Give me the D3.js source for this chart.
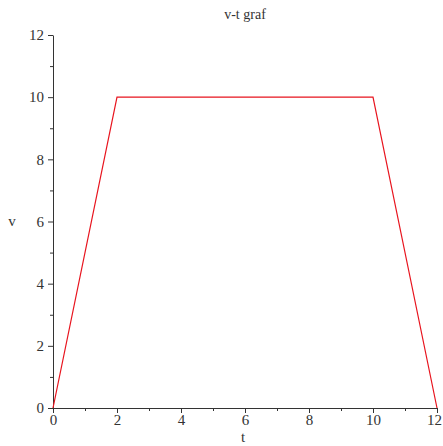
<!DOCTYPE html>
<html>
<head>
<meta charset="utf-8">
<script src="https://cdn.jsdelivr.net/npm/d3@7"></script>
<style>
  body { margin: 0; background: #fff; }
</style>
</head>
<body>
<div id="chart"></div>
<script>
// data
var times = [0, 2, 10, 12]
var speeds = [0, 10, 10, 0]
var xTicks = [0, 2, 4, 6, 8, 10, 12]
var yTicks = [0, 2, 4, 6, 8, 10, 12]
var xMinor = [1, 3, 5, 7, 9, 11]
var yMinor = [1, 3, 5, 7, 9, 11]

var serif = "'Liberation Serif', 'DejaVu Serif', serif"
var w = 443, h = 446
var margin = { top: 35, right: 6, bottom: 38, left: 53 }

var svg = d3.select("#chart")
  .append("svg")
  .attr("width", w)
  .attr("height", h)
  .attr("font-family", serif)

var xScale = d3.scaleLinear()
  .domain([0, 12])
  .range([margin.left, w - margin.right])

var yScale = d3.scaleLinear()
  .domain([0, 12])
  .range([h - margin.bottom, margin.top])

// minor ticks first so the major axis sits on top
svg.append("g")
  .attr("transform", `translate(0,${h - margin.bottom})`)
  .call(d3.axisBottom(xScale).tickValues(xMinor).tickSize(3).tickFormat(""))
  .call(g => g.select(".domain").remove())
  .selectAll("line").attr("stroke", "#333")

svg.append("g")
  .attr("transform", `translate(${margin.left},0)`)
  .call(d3.axisLeft(yScale).tickValues(yMinor).tickSize(3).tickFormat(""))
  .call(g => g.select(".domain").remove())
  .selectAll("line").attr("stroke", "#333")

// X axis
var xAxis = svg.append("g")
  .attr("class", "x-axis")
  .attr("transform", `translate(0,${h - margin.bottom})`)
  .call(d3.axisBottom(xScale).tickValues(xTicks).tickSize(5).tickSizeOuter(0))
  .attr("font-family", serif)
  .attr("font-size", 15)
xAxis.selectAll("text")
  .attr("fill", "#333")
  .attr("y", 6)
  // last label sits against the right edge, nudge it in
  .attr("x", d => d === 12 ? -3 : 0)
xAxis.selectAll("line, path").attr("stroke", "#333")

// Y axis
var yAxis = svg.append("g")
  .attr("class", "y-axis")
  .attr("transform", `translate(${margin.left},0)`)
  .call(d3.axisLeft(yScale).tickValues(yTicks).tickSize(5).tickSizeOuter(0))
  .attr("font-family", serif)
  .attr("font-size", 15)
yAxis.selectAll("text")
  .attr("fill", "#333")
  .attr("x", -9)
yAxis.selectAll("line, path").attr("stroke", "#333")

// line
var line = d3.line()
  .x((d, i) => xScale(times[i]))
  .y(d => yScale(d))

svg.append("path")
  .datum(speeds)
  .attr("d", line)
  .attr("fill", "none")
  .attr("stroke", "#e8141e")
  .attr("stroke-width", 1.2)

// title and labels
svg.append("text")
  .attr("x", 245)
  .attr("y", 19)
  .attr("text-anchor", "middle")
  .attr("font-size", 14)
  .attr("fill", "#333")
  .text("v-t graf")

svg.append("text")
  .attr("x", 12)
  .attr("y", 226)
  .attr("text-anchor", "middle")
  .attr("font-size", 15)
  .attr("fill", "#333")
  .text("v")

svg.append("text")
  .attr("x", 243)
  .attr("y", 442)
  .attr("text-anchor", "middle")
  .attr("font-size", 15)
  .attr("fill", "#333")
  .text("t")
</script>
</body>
</html>
